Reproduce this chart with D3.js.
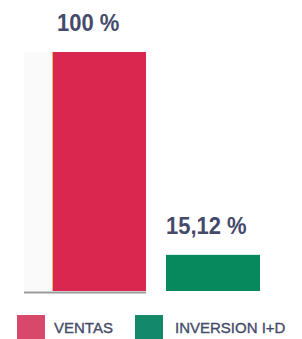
<!DOCTYPE html>
<html lang="es">
<head>
<meta charset="UTF-8">
<title>Ventas vs Inversion I+D</title>
<script src="https://d3js.org/d3.v7.min.js"></script>
<style>
  html, body { margin: 0; padding: 0; background: #fff; overflow: hidden; }
  text { font-family: "Liberation Sans", Arial, sans-serif; fill: #454a6b; }
  .val { font-weight: bold; font-size: 22px; }
  .leg { font-size: 15px; stroke: #454a6b; stroke-width: 0.35px; }
</style>
</head>
<body>
<div id="chart"></div>
<script>
  // data
  const categories = ["VENTAS", "INVERSION I+D"];
  const values = [100, 15.12];
  const valueLabels = ["100 %", "15,12 %"];
  const barColors = ["#d9284f", "#07895d"];
  const legendColors = ["#d8486b", "#14896a"];

  const W = 302, H = 339;
  const svg = d3.select("#chart").append("svg")
    .attr("width", W).attr("height", H);

  const x = d3.scaleBand().domain(categories).range([52, 260])
    .paddingInner(0.175).paddingOuter(0);
  const y = d3.scaleLinear().domain([0, 100]).range([291, 52]);

  // faint panel left of first bar
  svg.append("rect")
    .attr("x", 24).attr("y", y(100))
    .attr("width", x(categories[0]) - 24).attr("height", y(0) - y(100))
    .attr("fill", "#fafafa");

  svg.selectAll(".bar")
    .data(categories)
    .join("rect")
    .attr("class", "bar")
    .attr("x", d => x(d))
    .attr("y", (d, i) => y(values[i]))
    .attr("width", x.bandwidth())
    .attr("height", (d, i) => y(0) - y(values[i]))
    .attr("fill", (d, i) => barColors[i]);

  // thin edge on the big bar
  svg.append("line")
    .attr("x1", x(categories[0]) + 0.5).attr("x2", x(categories[0]) + 0.5)
    .attr("y1", y(100)).attr("y2", y(0))
    .attr("stroke", "#e9b86e").attr("stroke-width", 1);

  // baseline under first bar
  svg.append("line")
    .attr("x1", 24).attr("x2", x(categories[0]) + x.bandwidth())
    .attr("y1", y(0) + 1.5).attr("y2", y(0) + 1.5)
    .attr("stroke", "#9a9a9a").attr("stroke-width", 2);

  // value labels, a bit taller than the font to match the lettering
  svg.selectAll(".val")
    .data(categories)
    .join("text")
    .attr("class", "val")
    .attr("transform", (d, i) =>
      `translate(${x(d) + (i === 0 ? 5 : 0)},${y(values[i]) - 21}) scale(1,1.12)`)
    .text((d, i) => valueLabels[i]);

  // legend
  const legX = [17, 135];
  const leg = svg.selectAll(".legitem")
    .data(categories)
    .join("g")
    .attr("class", "legitem")
    .attr("transform", (d, i) => `translate(${legX[i]},315)`);
  leg.append("rect")
    .attr("width", 28).attr("height", 28)
    .attr("fill", (d, i) => legendColors[i]);
  leg.append("text")
    .attr("class", "leg")
    .attr("x", (d, i) => i === 0 ? 37 : 40)
    .attr("y", 18)
    .text(d => d);
</script>
</body>
</html>
